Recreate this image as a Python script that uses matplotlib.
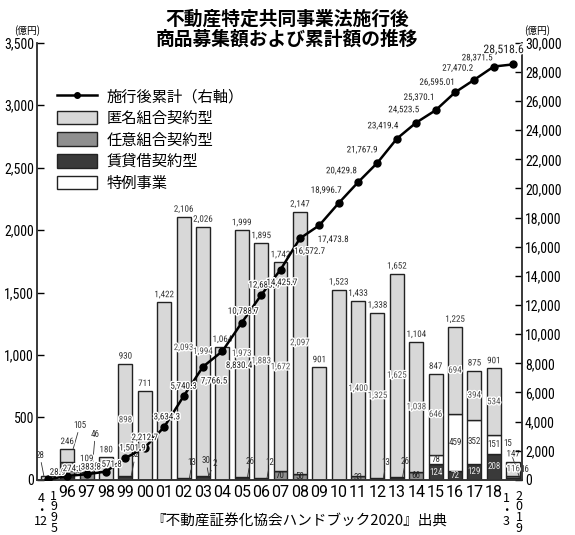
import matplotlib
matplotlib.use("Agg")
import matplotlib.pyplot as plt
import matplotlib.patheffects as pe
import numpy as np
from matplotlib.patches import Patch
from matplotlib.lines import Line2D

plt.rcParams['font.family'] = ['Noto Sans CJK JP', 'DejaVu Sans']

# 1995(4-12) ... 2018, 2019(1-3)
tick_labels = ["", "96", "97", "98", "99", "00", "01", "02", "03", "04", "05",
               "06", "07", "08", "09", "10", "11", "12", "13", "14", "15",
               "16", "17", "18", ""]
tokumei = [28, 105, 46, 180, 898, 711, 1422, 2093, 1994, 1064, 1973, 1883,
           1672, 2097, 901, 1523, 1400, 1325, 1625, 1038, 646, 694, 394, 534, 116]
nini = [0, 114, 63, 0, 0, 0, 0, 0, 2, 0, 0, 0, 70, 50, 0, 0, 33, 0, 0, 66,
        0, 0, 0, 0, 15]
chintai = [0, 27, 0, 0, 32, 0, 0, 13, 30, 0, 26, 12, 0, 0, 0, 0, 0, 13, 26,
           0, 124, 72, 129, 208, 16]
tokurei = [0, 0, 0, 0, 0, 0, 0, 0, 0, 0, 0, 0, 0, 0, 0, 0, 0, 0, 0, 0,
           78, 459, 352, 151, 0]
totals = [28, 246, 109, 180, 930, 711, 1422, 2106, 2026, 1064, 1999, 1895,
          1742, 2147, 901, 1523, 1433, 1338, 1652, 1104, 847, 1225, 875, 901, 147]
cumulative = [28.9, 274.8, 383.8, 571.8, 1501.9, 2212.7, 3634.3, 5740.3,
              7766.5, 8830.4, 10788.7, 12683.4, 14425.7, 16572.7, 17473.8,
              18996.7, 20429.8, 21767.9, 23419.4, 24523.5, 25370.1, 26595.01,
              27470.2, 28371.5, 28518.6]

# label offsets (points) for the cumulative values
cum_off = [(7, 2), (4, 2), (3, 2), (4, 2), (5, 4), (0, 4), (2, 4), (0, 4),
           (8, -7), (12, -7), (1, 5), (2, 4), (1, -6), (7, -6), (10, -7),
           (-9, 6), (-12, 5), (-11, 6), (-10, 6), (-9, 6), (-12, 6), (-13, 4),
           (-12, 5), (-12, 3), (-7, 6)]

# small segments labelled outside with a leader line: (bar, layer) -> offset pts
callout_off = {
    (1, "tok"): (5, 14), (1, "chi"): (4, 1), (2, "tok"): (2, 20),
    (2, "nin"): (4, 1), (4, "chi"): (3, 12), (7, "chi"): (2, 8),
    (8, "chi"): (-2, 8), (8, "nin"): (4, 6), (10, "chi"): (2, 8),
    (11, "chi"): (2, 8), (17, "chi"): (2, 8), (18, "chi"): (2, 8),
    (24, "nin"): (-8, 20), (24, "chi"): (4, 3),
}

C_TOK = "#d8d8d8"
C_NIN = "#8f8f8f"
C_CHI = "#3a3a3a"
C_TKR = "#ffffff"
NUM = ['Roboto Condensed', 'Roboto', 'DejaVu Sans']

fig = plt.figure(figsize=(5.75, 5.35), dpi=100)
ax = fig.add_axes([0.064, 0.103, 0.844, 0.817])
ax2 = ax.twinx()

x = np.arange(len(totals))
w = 0.72
halo = [pe.withStroke(linewidth=2, foreground="white")]
lead = dict(arrowstyle="-", lw=0.6, color="#333333", shrinkA=0, shrinkB=0)

# stack: 賃貸借 -> 任意 -> 特例 -> 匿名
layers = [("chi", chintai, C_CHI, "#e8e8e8"), ("nin", nini, C_NIN, "#222222"),
          ("tkr", tokurei, C_TKR, "#333333"), ("tok", tokumei, C_TOK, "#555555")]
bottom = np.zeros(len(x))
for name, vals, col, tcol in layers:
    v = np.array(vals, dtype=float)
    ax.bar(x, v, w, bottom=bottom, color=col, edgecolor="#222222",
           linewidth=1.0, zorder=2)
    for i in range(len(x)):
        if v[i] <= 0:
            continue
        nseg = sum(1 for _, lv, _, _ in layers if lv[i] > 0)
        if nseg < 2:
            continue
        lab = f"{int(v[i]):,}"
        if (i, name) in callout_off:
            dx, dy = callout_off[(i, name)]
            ax.annotate(lab, xy=(x[i] + 0.3, bottom[i] + v[i]),
                        xytext=(dx, dy), textcoords="offset points",
                        ha="center", va="bottom" if dy > 0 else "top",
                        fontsize=6.5, family=NUM, color="#333333", zorder=6,
                        arrowprops=lead)
        else:
            ax.text(x[i], bottom[i] + v[i] / 2, lab, ha="center", va="center",
                    fontsize=6.5, family=NUM, color=tcol, zorder=6,
                    path_effects=halo if col == C_TOK else None)
    bottom += v

for i in range(len(x)):
    if i == 0:
        ax.annotate(f"{totals[i]:,}", xy=(x[i] - 0.2, bottom[i]),
                    xytext=(-3, 12), textcoords="offset points", ha="center",
                    va="bottom", fontsize=6.5, family=NUM, color="#333333",
                    zorder=6, arrowprops=lead)
        continue
    ax.text(x[i], bottom[i] + 25, f"{totals[i]:,}", ha="center", va="bottom",
            fontsize=6.5, family=NUM, color="#333333", zorder=6,
            path_effects=halo)

ax2.plot(x, cumulative, color="black", lw=1.8, marker="o", markersize=5,
         zorder=5)
for i, (v, (dx, dy)) in enumerate(zip(cumulative, cum_off)):
    ax2.annotate(f"{v:,}", xy=(x[i], v), xytext=(dx, dy),
                 textcoords="offset points", ha="center",
                 va="bottom" if dy > 0 else "top",
                 fontsize=8.5 if i == len(x) - 1 else 6.5, family=NUM,
                 color="#222222", zorder=7, path_effects=halo)

ax2.set_zorder(3)
ax.set_zorder(2)
ax2.patch.set_visible(False)

ax.set_xlim(-0.57, 24.46)
ax.set_ylim(0, 3500)
ax2.set_ylim(0, 30000)
ax.set_yticks(np.arange(0, 3501, 500))
ax.set_yticklabels([f"{t:,}" for t in range(0, 3501, 500)], family=NUM,
                   fontsize=10)
ax2.set_yticks(np.arange(0, 30001, 2000))
ax2.set_yticklabels([f"{t:,}" for t in range(0, 30001, 2000)], family=NUM,
                    fontsize=10)
ax.set_xticks(x)
ax.set_xticklabels(tick_labels, family=['Roboto', 'DejaVu Sans'],
                   fontsize=11.5)
ax.tick_params(axis="x", length=0, pad=4)
ax.tick_params(axis="y", direction="in", length=5, width=1, pad=2)
ax2.tick_params(axis="y", direction="in", length=5, width=1, pad=2)
for a in (ax, ax2):
    a.spines["top"].set_visible(False)
    for s in ("left", "right", "bottom"):
        a.spines[s].set_linewidth(1.1)
        a.spines[s].set_color("#333333")

# split date labels for the first and last periods
tr = ax.get_xaxis_transform()
ax.text(0 - 0.35, -0.028, "4\n・\n12", transform=tr, ha="center", va="top",
        fontsize=9, linespacing=0.85)
ax.text(0 + 0.3, -0.022, "1\n9\n9\n5", transform=tr, ha="center", va="top",
        fontsize=9, linespacing=0.78)
ax.text(24 - 0.35, -0.028, "1\n・\n3", transform=tr, ha="center", va="top",
        fontsize=9, linespacing=0.85)
ax.text(24 + 0.3, -0.022, "2\n0\n1\n9", transform=tr, ha="center", va="top",
        fontsize=9, linespacing=0.78)

ax.text(-0.02, 1.015, "(億円)", transform=ax.transAxes, ha="center",
        va="bottom", fontsize=7)
ax.text(1.03, 1.015, "(億円)", transform=ax.transAxes, ha="center",
        va="bottom", fontsize=7)

legend = [
    Line2D([0], [0], color="black", lw=1.8, marker="o", markersize=4,
           label="施行後累計（右軸）"),
    Patch(fc=C_TOK, ec="#222222", label="匿名組合契約型"),
    Patch(fc=C_NIN, ec="#222222", label="任意組合契約型"),
    Patch(fc=C_CHI, ec="#222222", label="賃貸借契約型"),
    Patch(fc=C_TKR, ec="#222222", label="特例事業"),
]
ax.legend(handles=legend, loc="upper left", bbox_to_anchor=(0.03, 0.91),
          frameon=False, fontsize=11, handlelength=2.6, handleheight=1.0,
          labelspacing=0.3, handletextpad=0.6, borderaxespad=0)

fig.text(0.5, 0.982, "不動産特定共同事業法施行後\n商品募集額および累計額の推移",
         ha="center", va="top", fontsize=13.5, fontweight="bold",
         linespacing=1.05)
fig.text(0.52, 0.012, "『不動産証券化協会ハンドブック2020』出典", ha="center",
         va="bottom", fontsize=10.5)

fig.savefig("out.png", dpi=100, facecolor="white")
